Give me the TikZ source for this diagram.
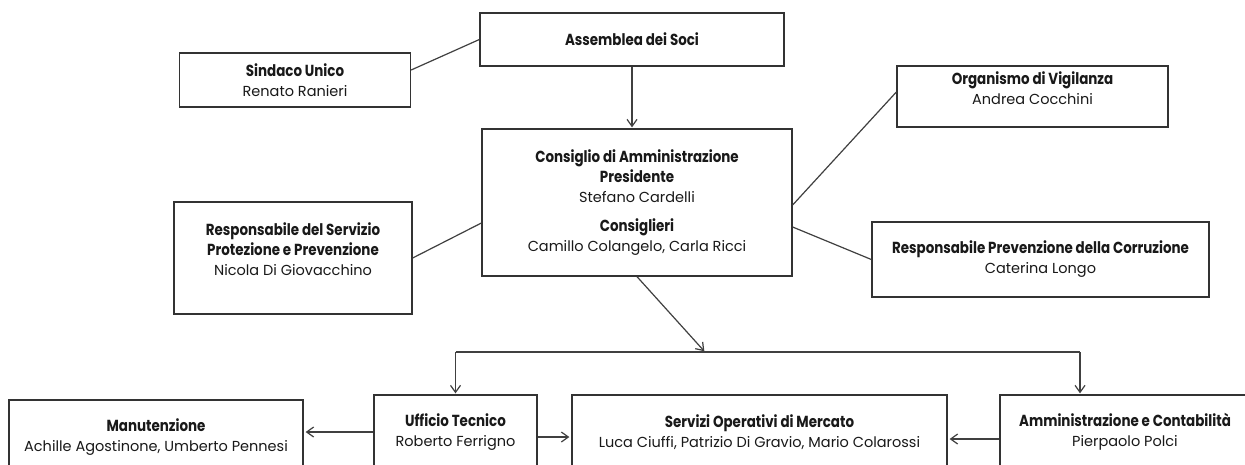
\documentclass[tikz,border=0pt]{standalone}
\usepackage{fontspec}
\setmainfont{Poppins}
\newfontfamily\headfont{Poppins}[FakeStretch=0.84]
\usetikzlibrary{arrows.meta}

\newcommand{\hd}[1]{{\headfont\bfseries\fontsize{16}{20}\selectfont #1}}

\begin{document}
\begin{tikzpicture}[x=1pt, y=-1pt,
        box_text/.style={
            align=center, text=black!90, font=\fontsize{14.5}{20}\selectfont
        },
        org_box/.style={
            draw=black!80, rectangle, line width=1.3pt, inner sep=0pt, fill=white, box_text
        },
        link/.style={draw=black!75, line width=1.2pt},
        arr/.style={link, -{Straight Barb[length=7pt, width=10pt]}, shorten >=1pt}
    ]
    \fill[white] (0,0) rectangle (1245,464);
    \useasboundingbox (0,0) rectangle (1245,464);
    \clip (0,0) rectangle (1245,464);

    % Governing bodies
    \node[org_box, minimum width=304, minimum height=53] (asm) at (632,39.5) {\hd{Assemblea dei Soci}};
    \node[org_box, minimum width=231, minimum height=54] (sin) at (295,80) {\hd{Sindaco Unico}\\Renato Ranieri};
    \node[org_box, minimum width=310, minimum height=147] (cda) at (637,202.5)
        {\hd{Consiglio di Amministrazione}\\\hd{Presidente}\\Stefano Cardelli\\[9pt]\hd{Consiglieri}\\Camillo Colangelo, Carla Ricci};
    \node[org_box, minimum width=271, minimum height=61,
        label={[box_text, yshift=8.5pt]center:{\hd{Organismo di Vigilanza}\\Andrea Cocchini}}] (ov) at (1032.5,96.5) {};
    \node[org_box, minimum width=238, minimum height=112,
        label={[box_text, yshift=9pt]center:{\hd{Responsabile del Servizio}\\\hd{Protezione e Prevenzione}\\Nicola Di Giovacchino}}] (spp) at (293,258) {};
    \node[org_box, minimum width=337, minimum height=75] (rpc) at (1040.5,259.5) {\hd{Responsabile Prevenzione della Corruzione}\\Caterina Longo};

    % Operational units (cut by the page edge)
    \node[org_box, minimum width=294, minimum height=74] (man) at (156,437) {\hd{Manutenzione}\\Achille Agostinone, Umberto Pennesi};
    \node[org_box, minimum width=163, minimum height=74] (ut) at (455.5,432) {\hd{Ufficio Tecnico}\\Roberto Ferrigno};
    \node[org_box, minimum width=375, minimum height=74] (som) at (759.5,432) {\hd{Servizi Operativi di Mercato}\\Luca Ciuffi, Patrizio Di Gravio, Mario Colarossi};
    \node[org_box, minimum width=250, minimum height=74] (ac) at (1125,432) {\hd{Amministrazione e Contabilità}\\Pierpaolo Polci};

    % Connections
    \draw[link] ([yshift=10pt]sin.east) -- (asm.west);
    \draw[arr] (asm.south) -- (asm.south |- cda.north);
    \draw[link] (spp.east) -- ([yshift=-20.5pt]cda.west);
    \draw[link] ([yshift=-2.5pt]cda.east) -- ([yshift=4.5pt]ov.west);
    \draw[link] ([yshift=-24.5pt]cda.east) -- (rpc.west);

    \coordinate (bus) at (705,352);
    \coordinate (busL) at (ut.north |- bus);
    \coordinate (busR) at (1080,352);
    \draw[arr] (cda.south) -- (bus);
    \draw[link] (busL) -- (busR);
    \draw[arr] (busL) -- (ut.north);
    \draw[arr] (busR) -- (busR |- ac.north);

    \draw[arr, shorten >=2pt] (ut.west) -- (ut.west -| man.east);
    \draw[arr, shorten >=2pt] ([yshift=-5pt]ut.east) -- ([yshift=-5pt]ut.east -| som.west);
    \draw[arr, shorten >=2pt] ([yshift=-7pt]ac.west) -- ([yshift=-7pt]ac.west -| som.east);

\end{tikzpicture}
\end{document}
